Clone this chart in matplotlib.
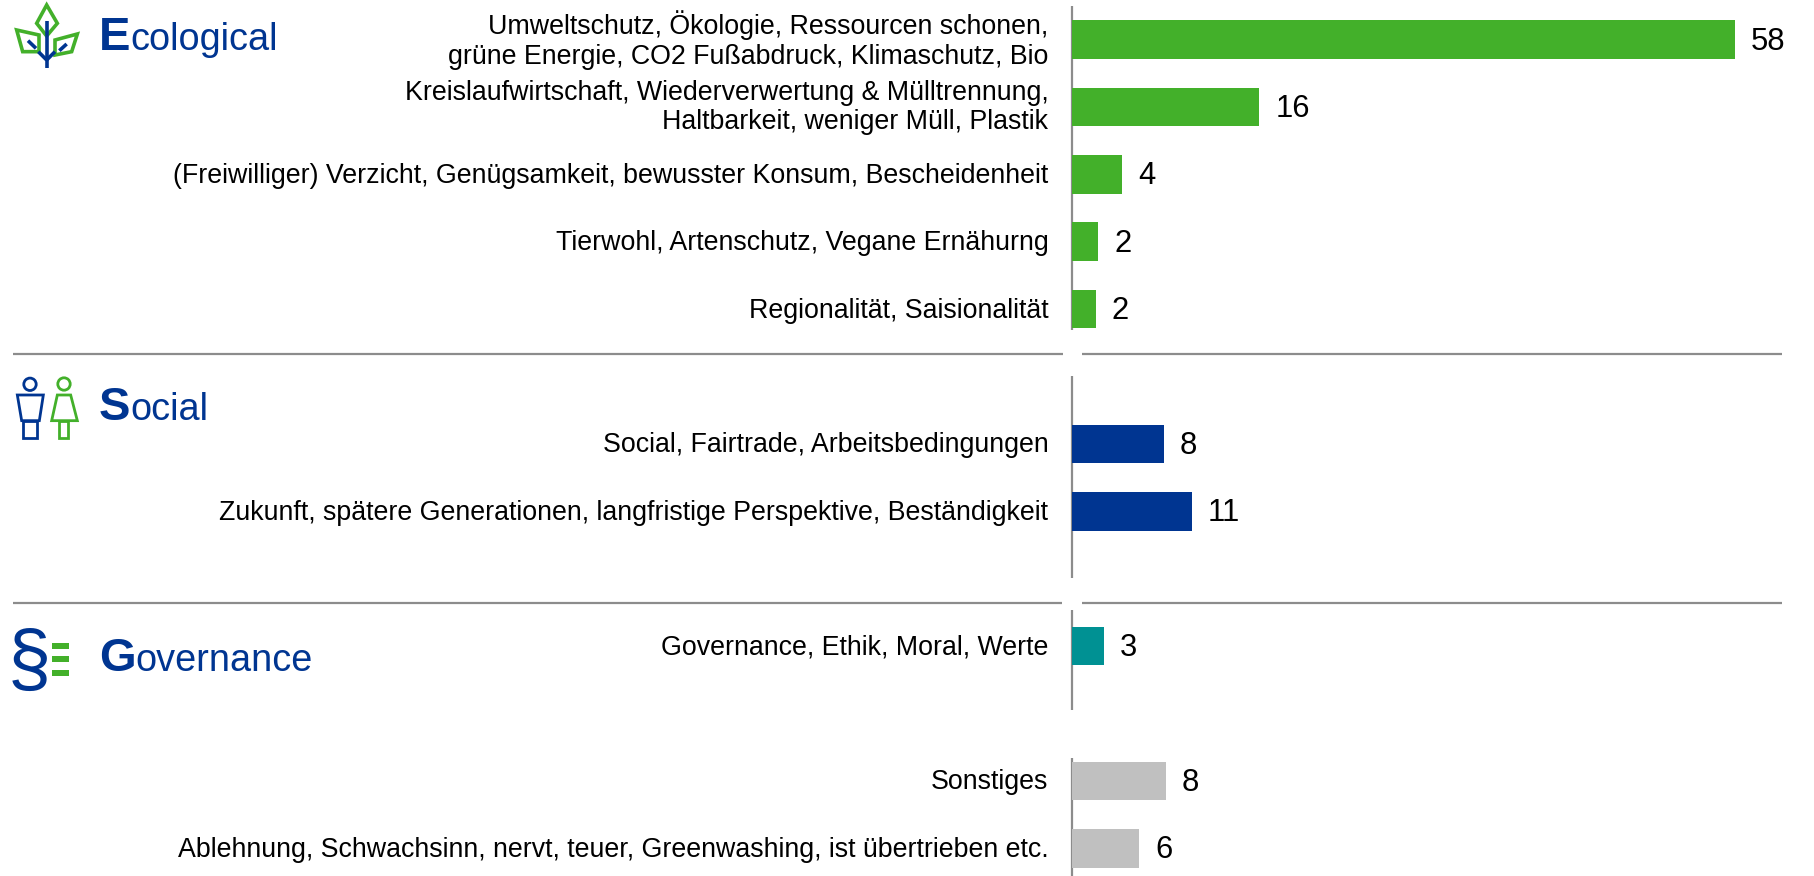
import matplotlib
matplotlib.use('Agg')
import matplotlib.pyplot as plt
from matplotlib.patches import Polygon, Circle, Rectangle
from matplotlib.transforms import Affine2D

plt.rcParams['font.family'] = ['Liberation Sans', 'DejaVu Sans']

labels = ['Umweltschutz, Ökologie, Ressourcen schonen,\ngrüne Energie, CO2 Fußabdruck, Klimaschutz, Bio',
          'Kreislaufwirtschaft, Wiederverwertung & Mülltrennung,\nHaltbarkeit, weniger Müll, Plastik',
          '(Freiwilliger) Verzicht, Genügsamkeit, bewusster Konsum, Bescheidenheit',
          'Tierwohl, Artenschutz, Vegane Ernähurng',
          'Regionalität, Saisionalität',
          'Social, Fairtrade, Arbeitsbedingungen',
          'Zukunft, spätere Generationen, langfristige Perspektive, Beständigkeit',
          'Governance, Ethik, Moral, Werte',
          'Sonstiges',
          'Ablehnung, Schwachsinn, nervt, teuer, Greenwashing, ist übertrieben etc.']
rows = [0, 1, 2, 3, 4, 6, 7, 9, 11, 12]
values = [58, 16.4, 4.4, 2.3, 2.1, 8.05, 10.5, 2.8, 8.2, 5.9]
shown = ['58', '16', '4', '2', '2', '8', '11', '3', '8', '6']

GREEN = '#43B02A'
BLUE = '#003591'
TEAL = '#009193'
LGREY = '#C0C0C0'
LINE = '#8C8C8C'
colors = [GREEN]*5 + [BLUE]*2 + [TEAL] + [LGREY]*2

W, H = 1814, 876
fig = plt.figure(figsize=(W/100, H/100), dpi=100)

# pixel canvas for rules, icons and headers
bg = fig.add_axes([0, 0, 1, 1])
bg.set_xlim(0, W)
bg.set_ylim(H, 0)
bg.axis('off')

for y, left_end in [(354, 1063), (603, 1062)]:
    bg.plot([13, left_end], [y, y], color=LINE, lw=1.6, solid_capstyle='butt')
    bg.plot([1082, 1782], [y, y], color=LINE, lw=1.6, solid_capstyle='butt')
for y0, y1 in [(6, 330), (376, 578), (610, 710), (758, 876)]:
    bg.plot([1072, 1072], [y0, y1], color=LINE, lw=1.6, solid_capstyle='butt')

# headers
for x, y, big, rest in [(99, 50, 'E', 'cological'), (99, 420, 'S', 'ocial'), (99, 671, 'G', 'overnance')]:
    t = bg.text(x, y, big, color=BLUE, fontsize=34, fontweight='bold', ha='left', va='baseline')
    bb = t.get_window_extent(fig.canvas.get_renderer())
    bg.text(x + bb.width, y, rest, color=BLUE, fontsize=27.3, ha='left', va='baseline')

# ecological icon
def px(points, dy=0):
    return [(a/3, b/3 + dy) for a, b in points]

bg.add_patch(Polygon(px([(140, 15), (172, 70), (140, 108), (110, 70)]), fill=False, ec=GREEN, lw=2.6))
bg.add_patch(Polygon(px([(50, 90), (117, 105), (117, 155), (68, 155)]), fill=False, ec=GREEN, lw=2.6))
bg.add_patch(Polygon(px([(232, 102), (165, 120), (165, 165), (215, 155)]), fill=False, ec=GREEN, lw=2.6))
for seg in [[(140, 62), (140, 203)], [(140, 180), (115, 155)], [(140, 180), (165, 155)],
            [(84, 122), (108, 145)], [(200, 132), (178, 152)]]:
    xs, ys = zip(*px(seg))
    bg.plot(xs, ys, color=BLUE, lw=2.6, solid_capstyle='butt')

# social icon
bg.add_patch(Circle((30, 384.3), 6.2, fill=False, ec=BLUE, lw=2.0))
bg.add_patch(Polygon(px([(52, 105), (130, 105), (118, 182), (65, 182)], 360), fill=False, ec=BLUE, lw=2.0))
bg.add_patch(Polygon(px([(70, 182), (112, 182), (112, 233), (70, 233)], 360), fill=False, ec=BLUE, lw=2.0))
bg.add_patch(Circle((64, 384), 6.2, fill=False, ec=GREEN, lw=2.0))
bg.add_patch(Polygon(px([(172, 105), (212, 105), (232, 182), (155, 182)], 360), fill=False, ec=GREEN, lw=2.0))
bg.add_patch(Polygon(px([(178, 182), (205, 182), (205, 233), (178, 233)], 360), fill=False, ec=GREEN, lw=2.0))

# governance icon
bg.text(29.5, 664, '§', color=BLUE, fontsize=56, ha='center', va='center')
for y0 in [643, 656, 670]:
    bg.add_patch(Rectangle((52, y0), 17, 5.5, color=GREEN, lw=0))

# bars
x0 = 1072
unit = (1735 - 1072)/58
ax = fig.add_axes([x0/W, 0, 1 - x0/W, 1])
ax.patch.set_alpha(0)
ax.set_xlim(0, (W - x0)/unit)
ax.set_ylim((H - 39.5)/67.4, -39.5/67.4)
bars = ax.barh(rows, values, height=0.57, color=colors)
for t in ax.bar_label(bars, labels=shown, padding=11.5, fontsize=22.3, color='black'):
    t.xyann = (11.5, -1.5)
ax.set_yticks(rows, labels, fontsize=19.3, color='black', linespacing=1.19)
ax.tick_params(axis='y', length=0, pad=17)
ax.set_xticks([])
for s in ax.spines.values():
    s.set_visible(False)
# nudge the labels down a little, two-line ones less
for l in ax.get_yticklabels():
    l.set_va('center')
    l.set_transform(l.get_transform() + Affine2D().translate(0, -0.5 if '\n' in l.get_text() else -1.5))

fig.savefig('out.png', dpi=100)
